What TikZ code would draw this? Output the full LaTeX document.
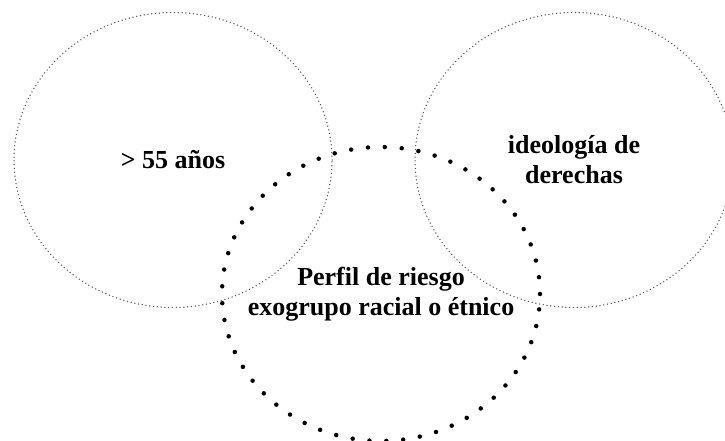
\documentclass[tikz,border=0pt]{standalone}
\usepackage{fontspec}
\setmainfont{Liberation Serif}
\usepackage{tikz}
\usetikzlibrary{shapes.geometric}
\usepackage{xcolor}
\definecolor{setgray}{HTML}{555555}
\definecolor{setblack}{HTML}{000000}
\tikzset{
  setcircle/.style={
    ellipse,
    draw=setgray,
    line width=1.5pt,
    line cap=round,
    dash pattern=on 0pt off 3.8pt,
    inner sep=0pt,
    minimum width=318pt,
    minimum height=295pt
  },
  riskcircle/.style={
    ellipse,
    draw=setblack,
    line width=4.5pt,
    line cap=round,
    dash pattern=on 0pt off 16.9pt,
    inner sep=0pt,
    minimum width=318pt,
    minimum height=294pt
  },
  setlabel/.style={
    align=center,
    inner sep=0pt,
    font=\fontsize{26}{30}\selectfont\bfseries
  }
}

\begin{document}
\begin{tikzpicture}[x=1pt, y=-1pt]
\useasboundingbox (0,0) rectangle (725,441);
% circles
\node[setcircle] (edad) at (173,160) {};
\node[setcircle] (ideo) at (574,160) {};
\node[riskcircle] (riesgo) at (381,294) {};
% labels
\node[setlabel] (edadtext) at (edad.center) {> 55 años};
\node[setlabel] (ideotext) at (ideo.center) {ideología de\\derechas};
\node[setlabel] (riesgotext) at (riesgo.center) {Perfil de riesgo\\exogrupo racial o étnico};
\end{tikzpicture}
\end{document}
